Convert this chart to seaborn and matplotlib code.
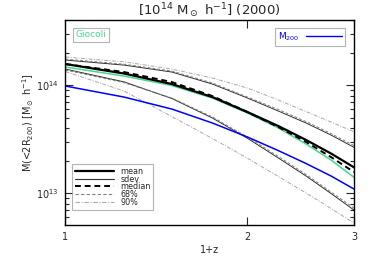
import numpy as np
import pandas as pd
import matplotlib
matplotlib.use("Agg")
import matplotlib.pyplot as plt
from matplotlib.lines import Line2D
import seaborn as sns

sns.set_style("ticks")
plt.rcParams['font.family'] = ['DejaVu Sans']
plt.rcParams['mathtext.fontset'] = 'dejavusans'

one_plus_z = [1.0, 1.25, 1.5, 1.75, 2.0, 2.25, 2.5, 2.75, 3.0]
mean = [1.565e14, 1.278e14, 1.021e14, 7.74e13, 5.62e13, 4.17e13, 3.10e13, 2.32e13, 1.73e13]
median = [1.565e14, 1.319e14, 1.066e14, 7.91e13, 5.62e13, 4.08e13, 2.97e13, 2.15e13, 1.565e13]
giocoli = [1.468e14, 1.212e14, 9.89e13, 7.58e13, 5.51e13, 4.00e13, 2.84e13, 2.02e13, 1.398e13]
m200 = [9.79e13, 7.74e13, 5.99e13, 4.45e13, 3.30e13, 2.47e13, 1.876e13, 1.437e13, 1.089e13]
sdev_up = [1.704e14, 1.530e14, 1.319e14, 1.021e14, 7.58e13, 5.74e13, 4.45e13, 3.44e13, 2.65e13]
sdev_lo = [1.406e14, 1.070e14, 7.50e13, 4.95e13, 3.21e13, 2.11e13, 1.437e13, 9.89e12, 6.96e12]
p68_up = [1.740e14, 1.560e14, 1.348e14, 1.044e14, 7.74e13, 5.93e13, 4.59e13, 3.55e13, 2.75e13]
p68_lo = [1.377e14, 1.050e14, 7.58e13, 5.06e13, 3.30e13, 2.18e13, 1.484e13, 1.022e13, 7.26e12]
p90_up = [1.817e14, 1.640e14, 1.406e14, 1.161e14, 9.38e13, 7.26e13, 5.68e13, 4.54e13, 3.69e13]
p90_lo = [1.334e14, 8.80e13, 5.10e13, 3.20e13, 2.10e13, 1.422e13, 1.00e13, 7.19e12, 5.28e12]

GREEN = '#44d98a'
BLUE = '#0000ff'
G68 = '#808080'
G90 = '#a8a8a8'

series = [
    ("p90_up", p90_up, G90, (0, (4, 1.5, 1, 1.5)), 0.7),
    ("p90_lo", p90_lo, G90, (0, (4, 1.5, 1, 1.5)), 0.7),
    ("sdev_up", sdev_up, '#303030', '-', 0.7),
    ("sdev_lo", sdev_lo, '#303030', '-', 0.7),
    ("p68_up", p68_up, G68, (0, (3, 2)), 0.7),
    ("p68_lo", p68_lo, G68, (0, (3, 2)), 0.7),
    ("m200", m200, BLUE, '-', 1.1),
    ("giocoli", giocoli, GREEN, '-', 1.1),
    ("mean", mean, 'black', '-', 1.6),
    ("median", median, 'black', (0, (3, 2)), 1.4),
]

fig = plt.figure(figsize=(3.74, 2.67), dpi=100)
ax = fig.add_axes([0.175, 0.1573, 0.7715, 0.7677])

for name, vals, col, ls, lw in series:
    df = pd.DataFrame({"x": one_plus_z, "y": vals})
    sns.lineplot(data=df, x="x", y="y", ax=ax, color=col, linestyle=ls,
                 linewidth=lw, legend=False)

ax.set_xscale('log')
ax.set_yscale('log')
ax.set_xlim(1, 3)
ax.set_ylim(5.06e12, 4.0e14)
ax.set_xticks([1, 2, 3])
ax.set_xticklabels(['1', '2', '3'])
ax.xaxis.set_minor_locator(matplotlib.ticker.NullLocator())
ax.set_yticks([1e13, 1e14])
ax.set_yticklabels([r'$10^{13}$', r'$10^{14}$'])
ax.yaxis.set_minor_locator(matplotlib.ticker.LogLocator(base=10, subs=np.arange(2, 10)))
ax.yaxis.set_minor_formatter(matplotlib.ticker.NullFormatter())
ax.tick_params(which='both', direction='in', top=True, right=True, labelsize=7, width=0.8, pad=5)
ax.tick_params(which='major', length=6)
ax.tick_params(which='minor', length=3)
for s in ax.spines.values():
    s.set_linewidth(1.0)
    s.set_color('black')

ax.set_xlabel('1+z', fontsize=7, labelpad=2)
ax.set_ylabel(r'M(<2R$_{200}$) [M$_\odot$ h$^{-1}$]', fontsize=7, labelpad=0)
ax.set_title(r'[10$^{14}$ M$_\odot$ h$^{-1}$] (2000)', fontsize=9.5, pad=3)

h1 = [Line2D([], [], color='black', lw=1.6),
      Line2D([], [], color='#303030', lw=0.8),
      Line2D([], [], color='black', lw=1.4, ls=(0, (3, 2))),
      Line2D([], [], color=G68, lw=0.8, ls=(0, (3, 2))),
      Line2D([], [], color=G90, lw=0.8, ls=(0, (4, 1.5, 1, 1.5)))]
leg1 = ax.legend(h1, ['mean', 'sdev', 'median', '68%', '90%'], loc='lower left',
                 fontsize=5.8, frameon=True, fancybox=False, edgecolor='#a0a0a0',
                 handlelength=4.8, labelspacing=-0.15, borderpad=0.35,
                 bbox_to_anchor=(0.01, 0.055), handletextpad=0.8)
leg1.get_frame().set_linewidth(0.8)
ax.add_artist(leg1)

leg2 = ax.legend([Line2D([], [], color='none')], ['Giocoli'], loc='upper left',
                 fontsize=6.5, frameon=True, fancybox=False, edgecolor='#a0a0a0',
                 handlelength=0, handletextpad=0, labelcolor=GREEN,
                 bbox_to_anchor=(0.01, 0.985), borderpad=0.3)
leg2.get_frame().set_linewidth(0.8)
ax.add_artist(leg2)

leg3 = ax.legend([Line2D([], [], color=BLUE, lw=1)], [r'M$_{200}$'], loc='upper right',
                 fontsize=6.5, frameon=True, fancybox=False, edgecolor='#a0a0a0',
                 handlelength=4, markerfirst=False, labelcolor=BLUE,
                 bbox_to_anchor=(0.985, 0.985), borderpad=0.3)
leg3.get_frame().set_linewidth(0.8)

fig.savefig('out.png', dpi=100)
